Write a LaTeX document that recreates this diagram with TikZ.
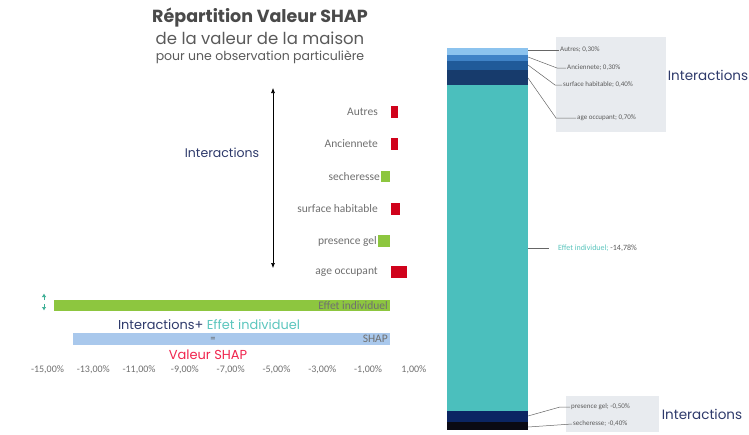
\documentclass[tikz,border=0pt]{standalone}
\usepackage{fontspec}
\setmainfont{Poppins}
\newfontfamily\lab{Carlito}
\usetikzlibrary{arrows.meta}
\definecolor{navy}{HTML}{2E3A6B}
\definecolor{titlegray}{HTML}{4A4A4A}
\definecolor{subgray}{HTML}{5A5A5A}
\definecolor{labgray}{HTML}{707070}
\definecolor{barred}{HTML}{D0021B}
\definecolor{bargreen}{HTML}{8DC63F}
\definecolor{shapblue}{HTML}{A9C8EC}
\definecolor{tealtxt}{HTML}{5CC6BE}
\definecolor{arrteal}{HTML}{3AAE94}
\definecolor{shapred}{HTML}{F0264F}
\definecolor{segA}{HTML}{8CC3EE}
\definecolor{segB}{HTML}{3F82C6}
\definecolor{segC}{HTML}{205A99}
\definecolor{segD}{HTML}{173B6C}
\definecolor{segE}{HTML}{4BBFBD}
\definecolor{segF}{HTML}{0B2563}
\definecolor{segG}{HTML}{0A0A14}
\definecolor{boxgray}{HTML}{E8EBEF}
\begin{document}
\begin{tikzpicture}[x=1pt,y=-1pt,
  featlab/.style={anchor=east,inner sep=1pt,font=\lab\fontsize{11.5}{13}\selectfont,text=labgray},
  axlab/.style={inner sep=0pt,font=\lab\fontsize{10}{11}\selectfont,text=labgray},
  callout/.style={anchor=west,inner sep=1pt,font=\lab\fontsize{7}{8}\selectfont,text=subgray},
  leader/.style={draw=gray!80!black,line width=0.5pt},
  grouplab/.style={font=\fontsize{13.5}{15}\selectfont,text=navy}]
\useasboundingbox[fill=white] (0,0) rectangle (749,434);

% titles
\node[font=\bfseries\fontsize{17.5}{20}\selectfont,text=titlegray] (title) at (260,18) {Répartition Valeur SHAP};
\node[font=\fontsize{16.5}{19}\selectfont,text=subgray] (sub1) at (260,38) {de la valeur de la maison};
\node[font=\fontsize{12.5}{14}\selectfont,text=subgray] (sub2) at (260,57) {pour une observation particulière};

% left bars
\fill[barred]   (391,106) rectangle (398,118);
\fill[barred]   (391,138) rectangle (398,150);
\fill[bargreen] (381,171) rectangle (390,182);
\fill[barred]   (391,203) rectangle (400,215);
\fill[bargreen] (378,235) rectangle (390,247);
\fill[barred]   (391,266) rectangle (407,278);

\node[featlab] (lautres) at (379,112) {Autres};
\node[featlab] (lanc) at (379,144) {Anciennete};
\node[featlab] (lsech) at (381,176.5) {secheresse};
\node[featlab] (lsurf) at (379,209) {surface habitable};
\node[featlab] (lgel) at (378,241) {presence gel};
\node[featlab] (lage) at (379,272) {age occupant};

% interactions arrow
\coordinate (atop) at (273,88);
\coordinate (abot) at (273,268);
\draw[line width=0.6pt,{Latex[length=5pt,width=4pt]}-{Latex[length=5pt,width=4pt]}] (atop) -- (abot);
\node[grouplab,font=\fontsize{12.5}{14}\selectfont] (linter) at (222,153) {Interactions};

% effet individuel bar
\fill[bargreen] (54,300) rectangle (390,311);
\node[featlab] (leffet) at (389,305.5) {Effet individuel};
\coordinate (ua1) at (44,300);
\coordinate (ua2) at (44,293.5);
\coordinate (ub1) at (44,304);
\coordinate (ub2) at (44,310.5);
\draw[arrteal,line width=0.8pt,-{Latex[length=3.5pt,width=4.5pt]}] (ua1) -- (ua2);
\draw[arrteal,line width=0.8pt,-{Latex[length=3.5pt,width=4.5pt]}] (ub1) -- (ub2);

\node[font=\fontsize{12.9}{15}\selectfont] (sum) at (209,325) {\textcolor{navy}{Interactions+} \textcolor{tealtxt}{Effet individuel}};

% SHAP bar
\fill[shapblue] (73,333) rectangle (390,345);
\node[inner sep=0pt,font=\fontsize{8}{9}\selectfont,text=gray!70!black] (eq) at (213,339.5) {=};
\node[featlab] (lshap) at (389,339) {SHAP};
\node[font=\fontsize{13}{15}\selectfont,text=shapred] (vshap) at (208,355) {Valeur SHAP};

% axis
\foreach \v/\t in {-15/{-15,00\%},-13/{-13,00\%},-11/{-11,00\%},-9/{-9,00\%},-7/{-7,00\%},-5/{-5,00\%},-3/{-3,00\%},-1/{-1,00\%},1/{1,00\%}}{
  \node[axlab] (ax\v) at ({391+\v*22.9},370) {\t};
}

% right stacked bar
\fill[segA] (447,48) rectangle (528,54.6);
\fill[segB] (447,54.6) rectangle (528,61.2);
\fill[segC] (447,61.2) rectangle (528,70);
\fill[segD] (447,70) rectangle (528,85.4);
\fill[segE] (447,85.4) rectangle (528,410.6);
\fill[segF] (447,410.6) rectangle (528,421.6);
\fill[segG] (447,421.6) rectangle (528,430.4);

% callout boxes
\fill[boxgray] (556,37) rectangle (666,132);
\fill[boxgray] (566,396) rectangle (659,432);

\node[callout] (cautres) at (559,50) {Autres; 0,30\%};
\node[callout] (canc) at (566,68) {Anciennete; 0,30\%};
\node[callout] (csurf) at (562,85) {surface habitable; 0,40\%};
\node[callout] (cage) at (576,118) {age occupant; 0,70\%};
\node[callout] (cgel) at (570,407) {presence gel; -0,50\%};
\node[callout] (csech) at (572,424) {secheresse; -0,40\%};
\node[callout,font=\lab\fontsize{8}{9}\selectfont] (ceffet) at (557,248) {\textcolor{tealtxt}{Effet individuel;} -14,78\%};

\coordinate (sA) at (528,50);
\coordinate (sB) at (528,57);
\coordinate (sC) at (528,65);
\coordinate (sD) at (528,78);
\coordinate (sE) at (528,248);
\coordinate (sF) at (528,416);
\coordinate (sG) at (528,427);
\draw[leader] (sA) -- (cautres.west);
\draw[leader] (sB) -- (557,68) -- (canc.west);
\draw[leader] (sC) -- (555,85) -- (csurf.west);
\draw[leader] (sD) -- (556,118) -- (cage.west);
\draw[leader] (sE) -- (549,248);
\draw[leader] (sF) -- (560,407) -- (cgel.west);
\draw[leader] (sG) -- (csech.west);

\node[grouplab] (rinter1) at (708,75) {Interactions};
\node[grouplab] (rinter2) at (702,414) {Interactions};
\end{tikzpicture}
\end{document}
